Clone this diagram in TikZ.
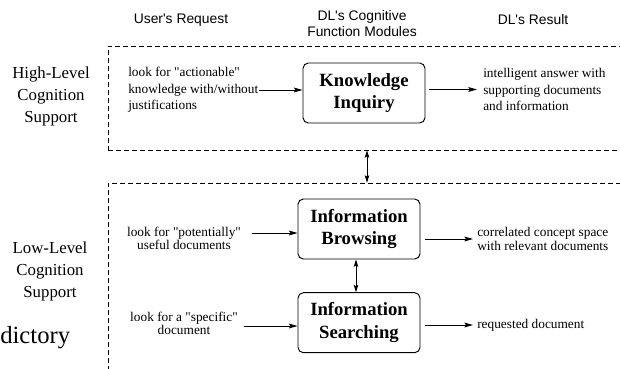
\documentclass[tikz,border=0pt]{standalone}
\usepackage{fontspec}
\setmainfont{Liberation Serif}
\newfontfamily\serfont{Liberation Serif}
\newfontfamily\hdrfont{Liberation Sans}
\usetikzlibrary{arrows.meta}
\begin{document}
\begin{tikzpicture}[x=0.75pt,y=-0.75pt,
  region/.style={draw, rectangle, dash pattern=on 3.6pt off 2.4pt, line width=0.55pt, inner sep=0pt, minimum width=388.5pt},
  module/.style={draw, rectangle, rounded corners=4pt, line width=0.7pt, minimum width=91.5pt, minimum height=45pt, align=center, inner sep=0pt, font=\fontsize{14}{17}\selectfont\bfseries},
  txt/.style={inner sep=0pt, font=\serfont\fontsize{10}{12.5}\selectfont},
  tighttxt/.style={inner sep=0pt, font=\serfont\fontsize{10}{10.4}\selectfont},
  hdr/.style={inner sep=0pt, align=center, font=\hdrfont\fontsize{10.4}{12}\selectfont},
  side/.style={inner sep=0pt, align=center, font=\fontsize{12.6}{16.25}\selectfont},
  arr/.style={-{Stealth[length=6.5pt,width=3.6pt,inset=1.2pt]}, line width=0.6pt},
  dbl/.style={{Stealth[length=5.5pt,width=3.4pt,inset=1pt]}-{Stealth[length=5.5pt,width=3.4pt,inset=1pt]}, line width=0.6pt}
]
\useasboundingbox (0,0) rectangle (620,368);
\clip (0,0) rectangle (620,368);

% headers
\node[hdr] (h1) at (181,20) {User's Request};
\node[hdr] (h2) at (362,23.5) {DL's Cognitive\\Function Modules};
\node[hdr] (h3) at (533,20) {DL's Result};

% regions
\node[region, minimum height=78pt] (hl) at (367,98) {};
\node[region, minimum height=177.75pt] (ll) at (367,301.5) {};

% side labels
\node[side] (sl1) at (51,96.5) {High-Level\\Cognition\\Support};
\node[side] (sl2) at (50,271.5) {Low-Level\\Cognition\\Support};
\node[inner sep=0pt, anchor=base west, font=\fontsize{18.5}{20}\selectfont] (frag) at (0,343) {dictory};

% modules
\node[module] (ki) at (364,93) {Knowledge\\Inquiry};
\node[module] (ib) at (359,229) {Information\\Browsing};
\node[module] (is) at (359,322.7) {Information\\Searching};

% inputs
\node[txt, align=left, anchor=west] (in1) at (128,90) {look for "actionable"\\knowledge with/without\\justifications};
\node[tighttxt, align=center, font=\serfont\fontsize{10}{9.8}\selectfont] (in2) at (184,238.5) {look for "potentially"\\useful documents};
\node[tighttxt, align=center, font=\serfont\fontsize{10}{9.8}\selectfont] (in3) at (184,323.5) {look for a "specific"\\document};

% outputs
\node[txt, align=left, anchor=west] (out1) at (483,89.5) {intelligent answer with\\supporting documents\\and information};
\node[tighttxt, align=left, anchor=west] (out2) at (477,239) {correlated concept space\\with relevant documents};
\node[tighttxt, align=left, anchor=west] (out3) at (477,325) {requested document};

% connectors
\draw[arr] (in1.east) -- (in1.east -| ki.west);
\coordinate (a2) at ([shift={(11,-5.5)}]in2.east);
\draw[arr] (a2) -- (a2 -| ib.west);
\coordinate (a3) at ([shift={(6,2.5)}]in3.east);
\draw[arr] (a3) -- (a3 -| is.west);

\draw[arr, shorten <=3pt, shorten >=4.5pt] (ki.east |- out1.west) -- (out1.west);
\draw[arr, shorten <=3.75pt, shorten >=3pt] (ib.east |- out2.west) -- (out2.west);
\draw[arr, shorten <=3.75pt, shorten >=3pt] (is.east |- out3.west) -- (out3.west);

\draw[dbl] (hl.south) -- (ll.north);
\draw[dbl] ([xshift=-2.25pt]ib.south) -- ([xshift=-2.25pt]is.north);
\end{tikzpicture}
\end{document}
